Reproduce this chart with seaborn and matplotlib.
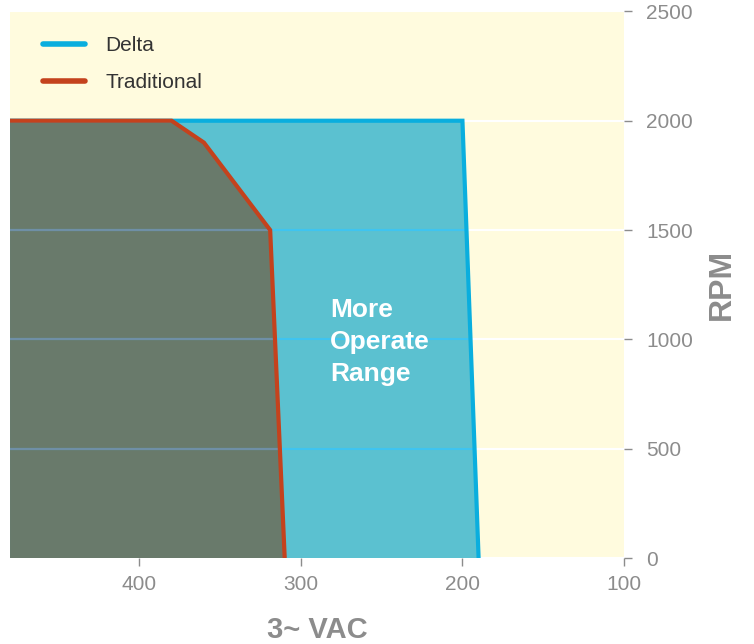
import matplotlib
matplotlib.use("Agg")
import matplotlib.pyplot as plt
import seaborn as sns
import pandas as pd
from matplotlib.patches import Polygon

# ---- data ----
delta_vac = [480, 200, 190]
delta_rpm = [2000, 2000, 0]
trad_vac = [480, 380, 360, 319, 310]
trad_rpm = [2000, 2000, 1900, 1500, 0]
x_ticks = [400, 300, 200, 100]
y_ticks = [0, 500, 1000, 1500, 2000, 2500]
series_names = ["Delta", "Traditional"]
annotation = "More\nOperate\nRange"

sns.set_theme(style="white")
plt.rcParams['font.family'] = ['Liberation Sans', 'DejaVu Sans']

C_DELTA_LINE = "#0aaede"
C_DELTA_FILL = "#5bc1d0"
C_TRAD_LINE = "#c4421d"
C_TRAD_FILL = "#697a6b"
C_BG = "#fffbde"
C_TICK = "#8c8c8c"

fig = plt.figure(figsize=(7.54, 6.44), dpi=100)
ax = fig.add_axes([0.0133, 0.1335, 0.8143, 0.8488])
ax.set_facecolor(C_BG)
for s in ax.spines.values():
    s.set_visible(False)

# white grid on background
ax.set_axisbelow(True)
ax.yaxis.grid(True, color="white", linewidth=1.5)
ax.xaxis.grid(False)

xmax = max(delta_vac)
# fills
dpoly = Polygon(list(zip(delta_vac, delta_rpm)) + [(xmax, 0)], closed=True,
                facecolor=C_DELTA_FILL, edgecolor="none", zorder=2)
ax.add_patch(dpoly)
tpoly = Polygon(list(zip(trad_vac, trad_rpm)) + [(xmax, 0)], closed=True,
                facecolor=C_TRAD_FILL, edgecolor="none", zorder=3)
ax.add_patch(tpoly)

# grid lines visible through fills (clipped)
gl1 = ax.hlines(y_ticks[1:-1], 100, xmax, colors="#3fc4f0", linewidth=1.5, zorder=3.5)
gl1.set_clip_path(dpoly)
gl2 = ax.hlines(y_ticks[1:-1], 100, xmax, colors="#6f8fa6", linewidth=1.5, zorder=3.6)
gl2.set_clip_path(tpoly)

df = pd.concat([
    pd.DataFrame({"VAC": delta_vac, "RPM": delta_rpm, "Series": series_names[0]}),
    pd.DataFrame({"VAC": trad_vac, "RPM": trad_rpm, "Series": series_names[1]}),
])
sns.lineplot(data=df, x="VAC", y="RPM", hue="Series", sort=False,
             palette={series_names[0]: C_DELTA_LINE, series_names[1]: C_TRAD_LINE},
             linewidth=3, ax=ax, zorder=5, estimator=None)
for ln in ax.lines:
    ln.set_solid_capstyle("butt")
    ln.set_solid_joinstyle("miter")

ax.set_xlim(480, 100)
ax.set_ylim(0, 2500)
ax.set_xticks(x_ticks)
ax.set_yticks(y_ticks)
ax.yaxis.tick_right()
ax.yaxis.set_label_position("right")
ax.tick_params(axis="both", colors=C_TICK, labelsize=15, length=6, width=1,
               direction="out", bottom=True, right=True, left=False)
ax.tick_params(axis="y", pad=10)
ax.tick_params(axis="x", pad=6)
for lab in ax.get_xticklabels() + ax.get_yticklabels():
    lab.set_color(C_TICK)

ax.set_xlabel("3~ VAC", fontsize=21, fontweight="bold", color=C_TICK, labelpad=16)
ax.set_ylabel("RPM", fontsize=23, fontweight="bold", color=C_TICK, labelpad=10)

ax.text(300 - (300 - 200) * 0.18, 990, annotation, color="white", fontsize=19,
        fontweight="bold", ha="left", va="center", linespacing=1.42, zorder=6)

leg = ax.legend(loc="upper left", frameon=False, fontsize=15, handlelength=2.0,
                handletextpad=1.0, labelspacing=0.85, borderaxespad=0.0,
                bbox_to_anchor=(0.04, 0.97))
for h in leg.get_lines():
    h.set_linewidth(4)
    h.set_solid_capstyle("round")
for t in leg.get_texts():
    t.set_color("#333333")

fig.savefig("out.png", dpi=100)
